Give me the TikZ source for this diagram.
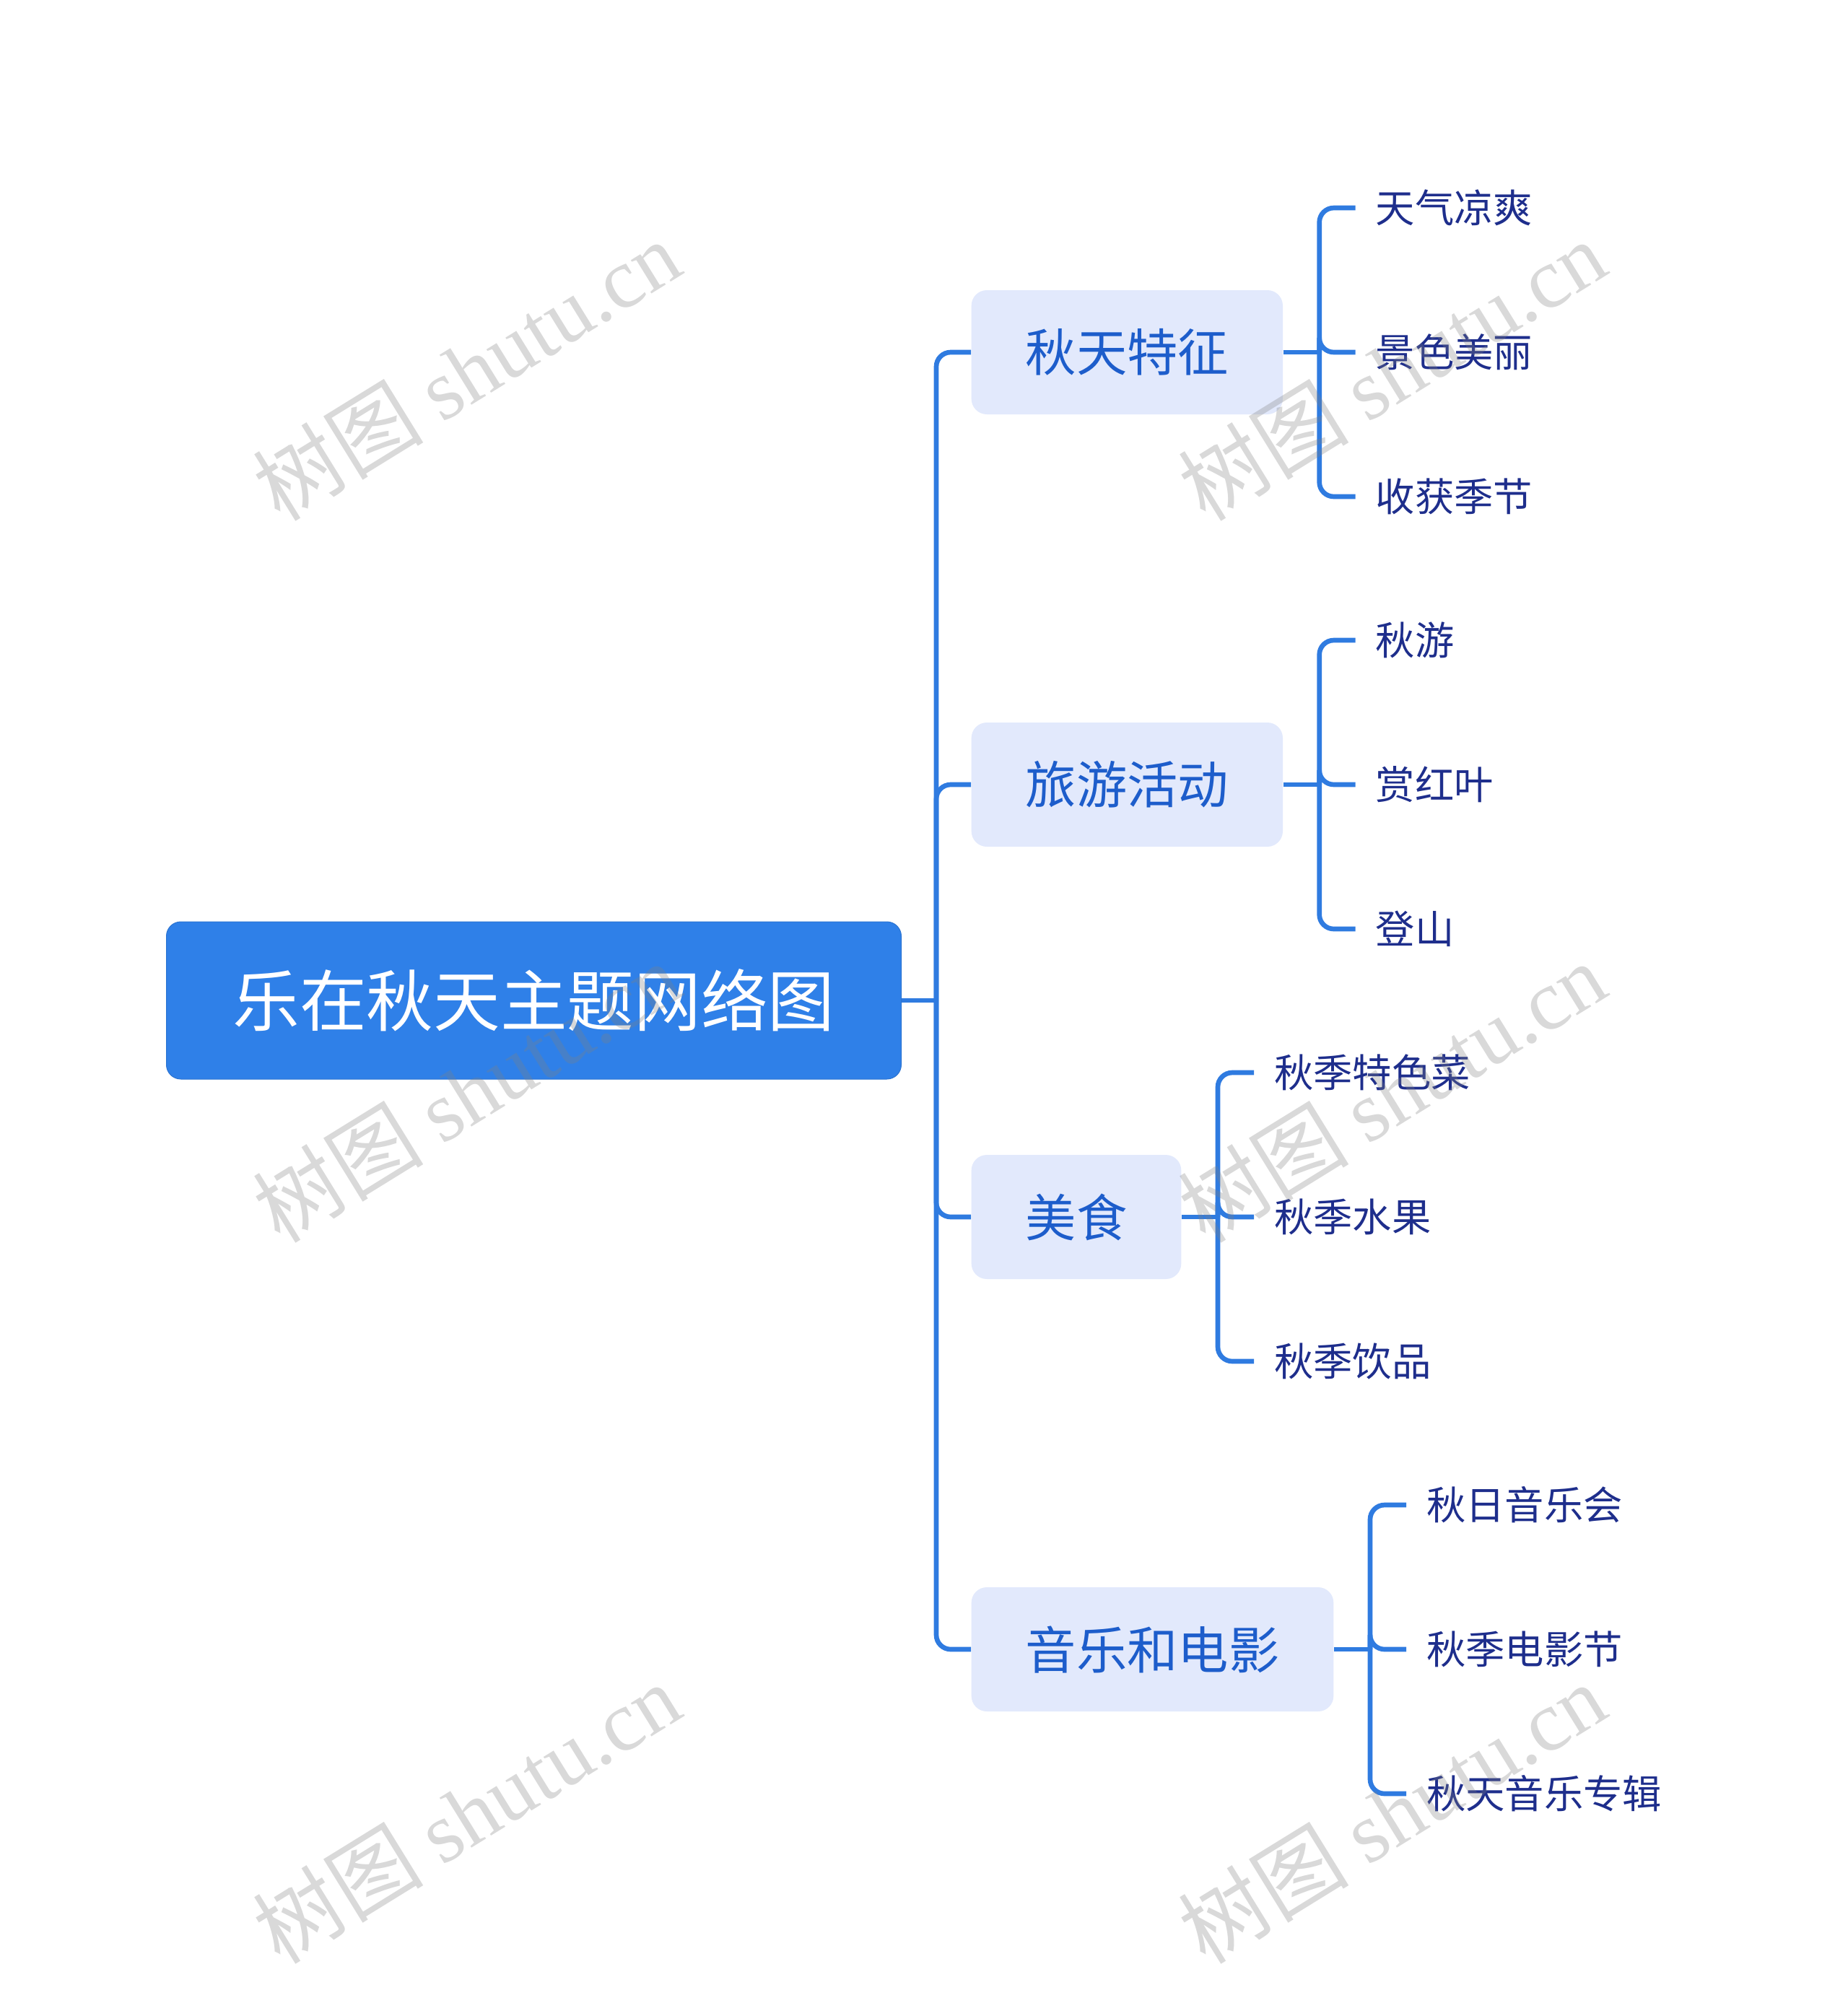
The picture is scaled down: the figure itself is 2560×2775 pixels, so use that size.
\documentclass[tikz,border=0pt]{standalone}
\usepackage{fontspec}
\setmainfont{Noto Sans CJK SC}
\newfontfamily\wmlatin{Liberation Serif}
\usepackage{xcolor}
\usepackage{tikz}
\usetikzlibrary{positioning}
\definecolor{mblue}{HTML}{2F80E8}
\definecolor{mline}{HTML}{2F7BE0}
\definecolor{mpale}{HTML}{E2E9FC}
\definecolor{mtext}{HTML}{1D5DCB}
\definecolor{mnavy}{HTML}{1E2E8C}
\definecolor{mwater}{HTML}{808080}
\newcommand{\shutumark}{树图\ {\wmlatin shutu.cn}}

\begin{document}
\begin{tikzpicture}[x=0.3pt,y=-0.3pt,
  link/.style={draw=mline,line width=2pt,rounded corners=6pt},
  rootbox/.style={fill=mblue,draw=mblue!90!black,line width=0.3pt,rounded corners=6pt,
                  text=white,font=\fontsize{27.8pt}{30pt}\selectfont,
                  inner xsep=27.6pt,minimum height=65.4pt},
  catbox/.style={fill=mpale,draw=none,rounded corners=6.4pt,text=mtext,
                 font=\fontsize{21.1pt}{24pt}\selectfont,
                 inner xsep=22.5pt,minimum height=51.6pt,anchor=west},
  leaf/.style={text=mnavy,font=\fontsize{16.3pt}{19pt}\selectfont,
               inner xsep=8.2pt,anchor=west},
  wmark/.style={text=mwater,opacity=0.3,font=\fontsize{35.5pt}{38pt}\selectfont,rotate=31.7}]
\useasboundingbox (0,0) rectangle (2560,2775);

\node[rootbox,anchor=west] (root) at (230,1386) {乐在秋天主题网络图};

\node[catbox] (cat1) at (1345,488) {秋天特征};
\node[catbox] (cat2) at (1345,1087) {旅游活动};
\node[catbox] (cat3) at (1345,1686) {美食};
\node[catbox] (cat4) at (1345,2285) {音乐和电影};

% trunk
\coordinate (hub) at (1297,1386);
\draw[link] (root.east) -- (hub);
\foreach \c in {cat1,cat2,cat3,cat4}
  \draw[link] (hub) |- (\c.west);

% leaves
\foreach \c/\a/\b/\d [count=\i] in {cat1/天气凉爽/景色美丽/收获季节,
    cat2/秋游/赏红叶/登山,
    cat3/秋季特色菜/秋季水果/秋季饮品,
    cat4/秋日音乐会/秋季电影节/秋天音乐专辑}{
  \coordinate (hub\i) at ([xshift=15pt]\c.east);
  \draw[link] (\c.east) -- (hub\i);
  \foreach \t [count=\j] in {\a,\b,\d}{
    \node[leaf] (l\i\j) at ([shift={(100,{(\j-2)*200})}]\c.east) {\t};
    \draw[link] (hub\i) |- (l\i\j.west);
  }
}

% watermarks
\foreach \wx/\wy [count=\k] in {646/513,1928/513,646/1513,1928/1513,646/2512,1928/2512}
  \node[wmark] (wm\k) at (\wx,\wy) {\shutumark};
\end{tikzpicture}
\end{document}
